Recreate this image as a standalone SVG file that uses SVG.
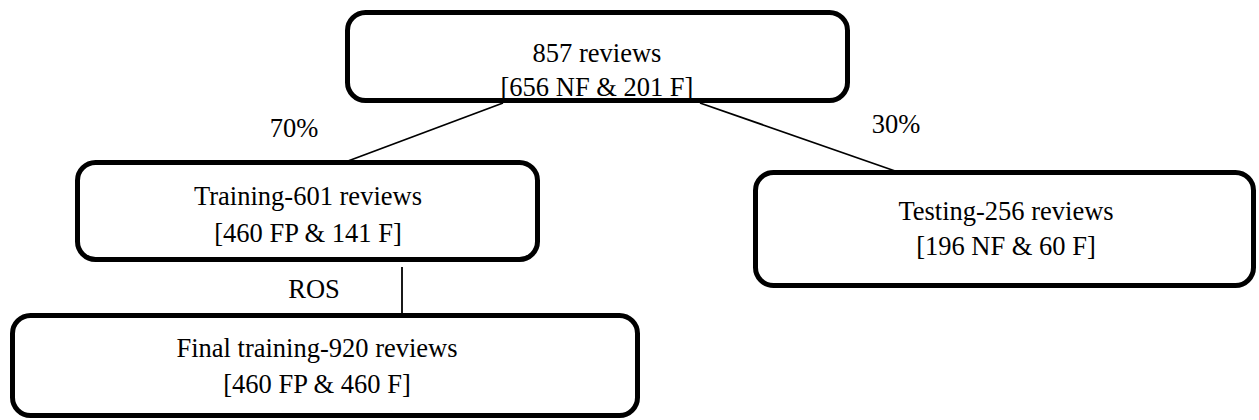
<svg xmlns="http://www.w3.org/2000/svg" width="1259" height="420" viewBox="0 0 1259 420">
  <style>
    .box { fill: #ffffff; stroke: #000000; stroke-width: 5; }
    .edge { stroke: #000000; stroke-width: 1.8; fill: none; }
    text { font-family: "Liberation Serif", "Times New Roman", serif; font-size: 26.5px; fill: #000000; }
    .c { text-anchor: middle; }
  </style>
  <rect width="1259" height="420" fill="#ffffff"/>

  <!-- connectors -->
  <g id="connectors">
    <line class="edge" x1="503" y1="103" x2="348" y2="161"/>
    <line class="edge" x1="700" y1="103" x2="898" y2="172"/>
    <line class="edge" x1="402" y1="267" x2="402" y2="330"/>
  </g>

  <g id="labels">
    <text x="294" y="137" class="c">70%</text>
    <text x="896" y="133" class="c">30%</text>
    <text x="314" y="298" class="c">ROS</text>
  </g>

  <g id="all-reviews">
    <rect class="box" x="347.5" y="12.5" width="500" height="88" rx="18"/>
    <text x="597" y="62" class="c">857 reviews</text>
    <text x="597" y="96" class="c">[656 NF &amp; 201 F]</text>
  </g>

  <g id="training">
    <rect class="box" x="77.5" y="162.5" width="460" height="97" rx="18"/>
    <text x="308" y="205" class="c">Training-601 reviews</text>
    <text x="308" y="242" class="c">[460 FP &amp; 141 F]</text>
  </g>

  <g id="testing">
    <rect class="box" x="755.5" y="172.5" width="498" height="113" rx="18"/>
    <text x="1006" y="220" class="c">Testing-256 reviews</text>
    <text x="1006" y="255" class="c">[196 NF &amp; 60 F]</text>
  </g>

  <g id="final-training">
    <rect class="box" x="12.5" y="315.5" width="625" height="100" rx="18"/>
    <text x="317" y="357" class="c">Final training-920 reviews</text>
    <text x="317" y="393" class="c">[460 FP &amp; 460 F]</text>
  </g>
</svg>
